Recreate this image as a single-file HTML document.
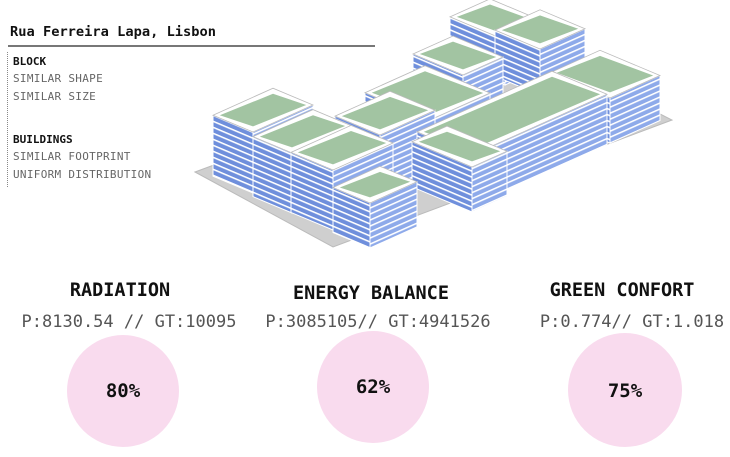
<!DOCTYPE html>
<html><head><meta charset="utf-8"><style>
html,body{margin:0;padding:0;background:#fff;width:730px;height:457px;overflow:hidden;position:relative}
.m{font-family:"DejaVu Sans Mono","Liberation Mono",monospace;position:absolute;white-space:nowrap}
.t{font-weight:bold;font-size:13.7px;left:10px;top:24px;color:#111}
.s{font-size:11px;color:#666;left:13px;letter-spacing:0.3px}
.b{font-size:11px;color:#111;font-weight:bold;left:13px}
.h{font-weight:bold;font-size:18.5px;color:#111;transform:translateX(-50%)}
.p{font-size:17px;color:#555;transform:translateX(-50%)}
.c{position:absolute;border-radius:50%;background:#f9dbee}
.v{font-family:"DejaVu Sans Mono","Liberation Mono",monospace;font-weight:bold;font-size:19px;color:#111;position:absolute;transform:translate(-50%,-50%)}
</style></head><body>
<div class="m t">Rua Ferreira Lapa, Lisbon</div>
<div style="position:absolute;left:8px;top:45px;width:367px;height:1.5px;background:#777"></div>
<div style="position:absolute;left:7px;top:52px;height:135px;border-left:1.5px dotted #888"></div>
<div class="m b" style="top:55px">BLOCK</div>
<div class="m s" style="top:72px">SIMILAR SHAPE</div>
<div class="m s" style="top:90px">SIMILAR SIZE</div>
<div class="m b" style="top:133px">BUILDINGS</div>
<div class="m s" style="top:150px">SIMILAR FOOTPRINT</div>
<div class="m s" style="top:168px">UNIFORM DISTRIBUTION</div>
<svg id="sv" width="730" height="260" style="position:absolute;left:0;top:0">
<defs>
<pattern id="pl" width="10" height="6" patternUnits="userSpaceOnUse" patternTransform="skewY(23)"><rect width="10" height="6" fill="#fff"/><rect y="1.7" width="10" height="4.3" fill="#6f8fdc"/></pattern>
<pattern id="pr" width="10" height="6" patternUnits="userSpaceOnUse" patternTransform="skewY(-24)"><rect width="10" height="6" fill="#fff"/><rect y="1.7" width="10" height="4.3" fill="#8eaaea"/></pattern>
</defs>
<polygon points="195,172 333,247 672,120 530,48" fill="#cfcfcf" stroke="#bbb"/>
<g id="g"></g>
</svg>
<div class="m h" style="left:120px;top:280px">RADIATION</div>
<div class="m h" style="left:371px;top:283px">ENERGY BALANCE</div>
<div class="m h" style="left:622px;top:280px">GREEN CONFORT</div>
<div class="m p" style="left:129px;top:312px">P:8130.54 // GT:10095</div>
<div class="m p" style="left:378px;top:312px">P:3085105// GT:4941526</div>
<div class="m p" style="left:632px;top:312px">P:0.774// GT:1.018</div>
<div class="c" style="left:67px;top:335px;width:112px;height:112px"></div>
<div class="c" style="left:317px;top:331px;width:112px;height:112px"></div>
<div class="c" style="left:568px;top:333px;width:114px;height:114px"></div>
<div class="v" style="left:123px;top:391px">80%</div>
<div class="v" style="left:373px;top:387px">62%</div>
<div class="v" style="left:625px;top:391px">75%</div>
<script>
var A=[1,0.42],B=[1,-0.45],s="";
function P(p){return p.map(function(q){return q[0].toFixed(1)+","+q[1].toFixed(1)}).join(" ")}
function box(x,y,w,d,h){
 var C=[x,y],L=[x-w*A[0],y-w*A[1]],R=[x+d*B[0],y+d*B[1]],K=[L[0]+d*B[0],L[1]+d*B[1]];
 var u=function(p){return [p[0],p[1]-h]};
 s+='<polygon points="'+P([L,C,u(C),u(L)])+'" fill="url(#pl)" stroke="#fff" stroke-width="1"/>';
 s+='<polygon points="'+P([C,R,u(R),u(C)])+'" fill="url(#pr)" stroke="#fff" stroke-width="1"/>';
 s+='<polygon points="'+P([u(L),u(C),u(R),u(K)])+'" fill="#fff" stroke="#bbb" stroke-width="0.8"/>';
 var i=4,tl=[u(L)[0]+i*1.7,u(L)[1]],tc=[u(C)[0],u(C)[1]-i*1.4],tr=[u(R)[0]-i*1.7,u(R)[1]],tk=[u(K)[0],u(K)[1]+i*1.4];
 s+='<polygon points="'+P([tl,tc,tr,tk])+'" fill="#a2c4a2"/>';
}
box(505,85,55,40,45);
box(540,95,45,45,46);
box(463,120,50,40,45);
box(610,143,60,50,45);
box(430,170,65,60,50);
box(380,195,45,55,60);
box(472,205,55,135,50);
box(472,212,60,35,45);
box(253,193,40,60,61);
box(292,213,39,60,60);
box(333,230,42,60,60);
box(370,248,37,47,45);
document.getElementById("g").innerHTML=s;
</script>
</body></html>
